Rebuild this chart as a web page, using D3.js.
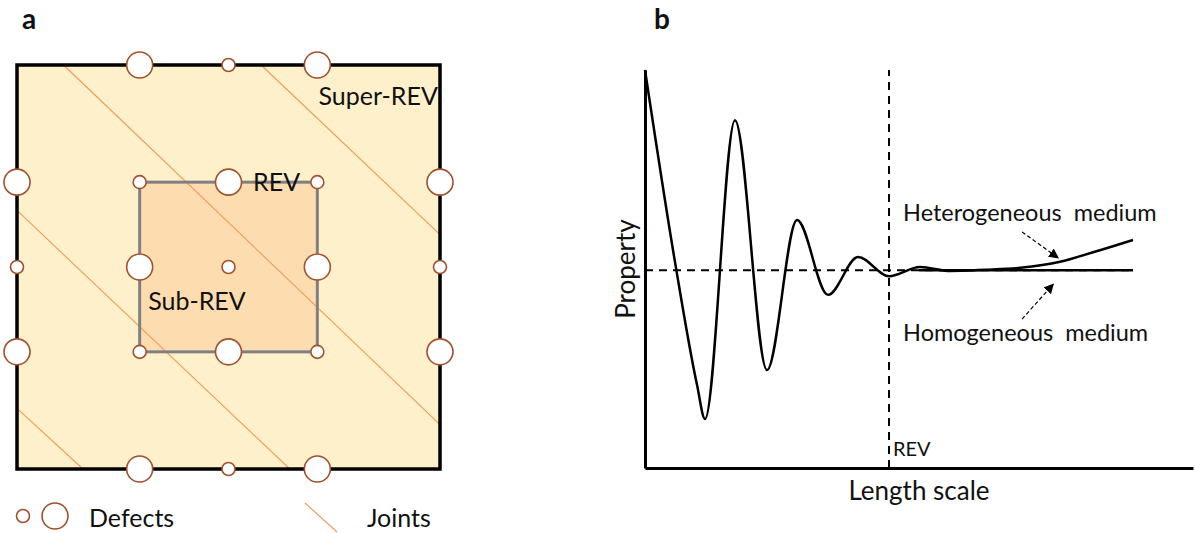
<!DOCTYPE html>
<html>
<head>
  <meta charset="utf-8">
  <title>REV concept</title>
  <style>
    body { margin: 0; background: white; }
    text { font-family: Lato, "Open Sans", sans-serif; fill: #111; }
    .panel-label { font-weight: bold; font-size: 28px; }
    .lbl { font-size: 25px; }
    .joint { stroke: #EE9B55; stroke-width: 1.1; }
    .defect { fill: white; stroke: #A0522D; stroke-width: 1.6; }
    .axis path { stroke: #000; stroke-width: 3; }
    .ref { fill: none; stroke: #000; stroke-width: 2; stroke-dasharray: 8,6; }
    .curve { fill: none; stroke: #000; stroke-width: 2.5; }
    .pointer { stroke: #000; stroke-width: 1.2; stroke-dasharray: 4,2.5; }
  </style>
  <script src="https://d3js.org/d3.v7.min.js"></script>
</head>
<body>
  <div id="chart"></div>
  <script>
    const width = 1195;
    const height = 533;

    // ---- panel a : sample boxes, defects, joints (unit square coords) ----
    const boxes = [
      { name: "Super-REV", x0: 0, x1: 1, y0: 0, y1: 1 },
      { name: "REV", x0: 0.29, x1: 0.71, y0: 0.29, y1: 0.71 }
    ];
    const defects = [
      // outer box edges
      { x: 0.29, y: 0, size: "big" }, { x: 0.5, y: 0, size: "small" }, { x: 0.71, y: 0, size: "big" },
      { x: 0.29, y: 1, size: "big" }, { x: 0.5, y: 1, size: "small" }, { x: 0.71, y: 1, size: "big" },
      { x: 0, y: 0.29, size: "big" }, { x: 0, y: 0.5, size: "small" }, { x: 0, y: 0.71, size: "big" },
      { x: 1, y: 0.29, size: "big" }, { x: 1, y: 0.5, size: "small" }, { x: 1, y: 0.71, size: "big" },
      // REV box
      { x: 0.29, y: 0.29, size: "small" }, { x: 0.71, y: 0.29, size: "small" },
      { x: 0.29, y: 0.71, size: "small" }, { x: 0.71, y: 0.71, size: "small" },
      { x: 0.5, y: 0.29, size: "big" }, { x: 0.5, y: 0.71, size: "big" },
      { x: 0.29, y: 0.5, size: "big" }, { x: 0.71, y: 0.5, size: "big" },
      { x: 0.5, y: 0.5, size: "small" }
    ];
    const joints = [
      [0.11, 0, 1, 0.89],
      [0.577, 0, 1, 0.42],
      [0, 0.36, 0.645, 1],
      [0, 0.85, 0.156, 1]
    ];
    const boxLabels = [
      { text: "Super-REV", x: 0.995, y: 0.099, anchor: "end" },
      { text: "REV", x: 0.558, y: 0.312, anchor: "start" },
      { text: "Sub-REV", x: 0.31, y: 0.606, anchor: "start" }
    ];

    // ---- panel b : property vs length scale ----
    const curvePts = [
      [0, 100], [5.47, 51.8], [9.49, 20.9], [10.95, 12.3], [16.42, 87.4],
      [22.26, 24.6], [27.74, 62.3], [33.39, 43.5], [38.87, 53.0], [44.53, 48.2],
      [50.18, 50.5], [55.66, 49.5], [62.0, 49.8]
    ];
    const heteroPts = [[62.0, 49.8], [68.5, 50.3], [75.73, 51.8], [81.75, 54.2], [89.05, 57.3]];
    const homoPts = [[50, 49.7], [89.05, 49.7]];
    const refLevel = 49.7;
    const revAt = 44.53;
    const pointers = [
      { from: [68.8, 59.3], to: [75.4, 52.8] },
      { from: [68.8, 37.4], to: [74.5, 46.2] }
    ];
    const curveLabels = [
      { text: "Heterogeneous  medium", x: 47.1, y: 62.1 },
      { text: "Homogeneous  medium", x: 47.1, y: 31.9 }
    ];

    const svg = d3.select("#chart").append("svg")
      .attr("width", width)
      .attr("height", height);

    svg.append("defs").append("marker")
      .attr("id", "head")
      .attr("viewBox", "0 0 10 10")
      .attr("refX", 9).attr("refY", 5)
      .attr("markerWidth", 10).attr("markerHeight", 10)
      .attr("markerUnits", "userSpaceOnUse")
      .attr("orient", "auto")
      .append("path")
      .attr("d", "M0,0L10,5L0,10Z")
      .attr("fill", "#000");

    // panel a
    const xa = d3.scaleLinear().domain([0, 1]).range([17, 440]);
    const ya = d3.scaleLinear().domain([0, 1]).range([65, 469]);
    const rad = { big: 13, small: 6.5 };
    const ga = svg.append("g");

    ga.append("rect")
      .attr("x", xa(0)).attr("y", ya(0))
      .attr("width", xa(1) - xa(0)).attr("height", ya(1) - ya(0))
      .attr("fill", "#FFF0CC");
    ga.append("rect")
      .attr("x", xa(boxes[1].x0)).attr("y", ya(boxes[1].y0))
      .attr("width", xa(boxes[1].x1) - xa(boxes[1].x0))
      .attr("height", ya(boxes[1].y1) - ya(boxes[1].y0))
      .attr("fill", "#FDDDB0");

    ga.selectAll(".joint").data(joints).join("line")
      .attr("class", "joint")
      .attr("x1", d => xa(d[0])).attr("y1", d => ya(d[1]))
      .attr("x2", d => xa(d[2])).attr("y2", d => ya(d[3]));

    ga.selectAll(".box").data(boxes).join("rect")
      .attr("class", "box")
      .attr("x", d => xa(d.x0)).attr("y", d => ya(d.y0))
      .attr("width", d => xa(d.x1) - xa(d.x0))
      .attr("height", d => ya(d.y1) - ya(d.y0))
      .attr("fill", "none")
      .attr("stroke", (d, i) => i === 0 ? "#000" : "#808080")
      .attr("stroke-width", (d, i) => i === 0 ? 3.5 : 3);

    ga.selectAll(".defect").data(defects).join("circle")
      .attr("class", "defect")
      .attr("cx", d => xa(d.x)).attr("cy", d => ya(d.y))
      .attr("r", d => rad[d.size]);

    ga.selectAll(".boxlbl").data(boxLabels).join("text")
      .attr("class", "lbl")
      .attr("x", d => xa(d.x)).attr("y", d => ya(d.y))
      .attr("text-anchor", d => d.anchor)
      .text(d => d.text);

    // legend
    const leg = svg.append("g");
    leg.append("circle").attr("class", "defect").attr("cx", 23).attr("cy", 516).attr("r", rad.small);
    leg.append("circle").attr("class", "defect").attr("cx", 55).attr("cy", 516).attr("r", rad.big);
    leg.append("text").attr("class", "lbl").attr("x", 89).attr("y", 527).text("Defects");
    leg.append("line").attr("class", "joint")
      .attr("x1", 305).attr("y1", 503).attr("x2", 337).attr("y2", 532);
    leg.append("text").attr("class", "lbl").attr("x", 367).attr("y", 527).text("Joints");

    svg.append("text").attr("class", "panel-label").attr("x", 22).attr("y", 29).text("a");
    svg.append("text").attr("class", "panel-label").attr("x", 654).attr("y", 29).text("b");

    // panel b
    const xb = d3.scaleLinear().domain([0, 100]).range([645, 1193]);
    const yb = d3.scaleLinear().domain([0, 100]).range([468, 70]);
    const gb = svg.append("g");

    const line = d3.line().x(d => xb(d[0])).y(d => yb(d[1]));
    const smooth = d3.line().x(d => xb(d[0])).y(d => yb(d[1])).curve(d3.curveMonotoneX);

    gb.append("path").attr("class", "ref")
      .attr("d", line([[0, refLevel], [89.05, refLevel]]));
    gb.append("path").attr("class", "ref")
      .attr("d", line([[revAt, 0], [revAt, 100]]));

    gb.append("path").attr("class", "curve").attr("d", line(homoPts));
    gb.append("path").attr("class", "curve").attr("d", smooth(curvePts.concat(heteroPts.slice(1))));

    gb.selectAll(".pointer").data(pointers).join("line")
      .attr("class", "pointer")
      .attr("x1", d => xb(d.from[0])).attr("y1", d => yb(d.from[1]))
      .attr("x2", d => xb(d.to[0])).attr("y2", d => yb(d.to[1]))
      .attr("marker-end", "url(#head)");

    gb.selectAll(".clbl").data(curveLabels).join("text")
      .attr("class", "lbl")
      .attr("x", d => xb(d.x)).attr("y", d => yb(d.y))
      .style("white-space", "pre")
      .style("font-size", "23.5px")
      .text(d => d.text);

    gb.append("g").attr("class", "axis")
      .attr("transform", `translate(0,${yb(0)})`)
      .call(d3.axisBottom(xb).ticks(0).tickSizeOuter(0));
    gb.append("g").attr("class", "axis")
      .attr("transform", `translate(${xb(0)},0)`)
      .call(d3.axisLeft(yb).ticks(0).tickSizeOuter(0));

    gb.append("text").attr("x", xb(revAt) + 4).attr("y", yb(3))
      .style("font-size", "20px").text("REV");
    gb.append("text").attr("class", "lbl")
      .attr("x", 919).attr("y", 500)
      .attr("text-anchor", "middle")
      .style("font-size", "26px")
      .text("Length scale");
    gb.append("text").attr("class", "lbl")
      .attr("transform", `translate(635,${yb(50)}) rotate(-90)`)
      .attr("text-anchor", "middle")
      .style("font-size", "26px")
      .text("Property");
  </script>
</body>
</html>
